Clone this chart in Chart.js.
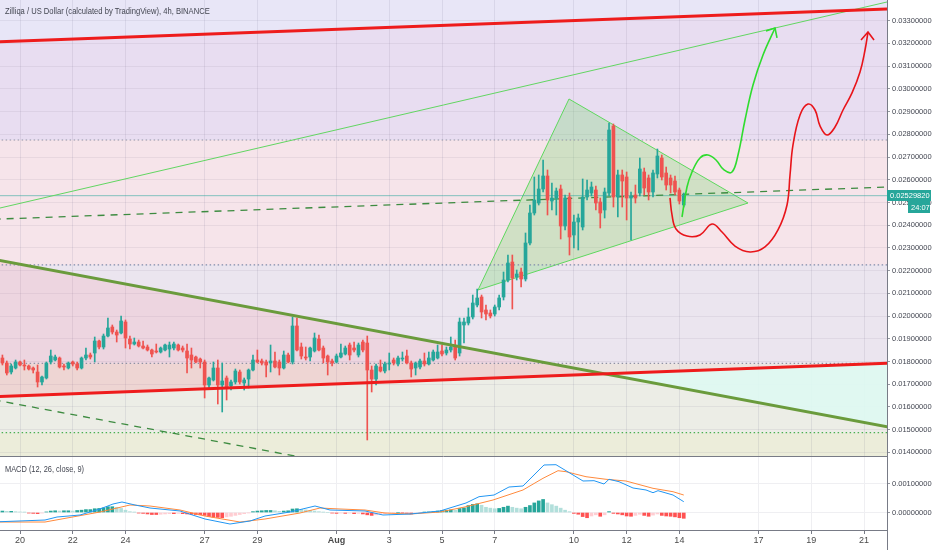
<!DOCTYPE html>
<html><head><meta charset="utf-8">
<script src="https://cdn.jsdelivr.net/npm/chart.js@4.4.1/dist/chart.umd.min.js"></script>
<style>
html,body{margin:0;padding:0;background:#fff;width:932px;height:550px;overflow:hidden}
#wrap{position:relative;width:932px;height:550px}
canvas{position:absolute;left:0}
.lbl{position:absolute;font-family:'Liberation Sans',Arial,sans-serif;font-size:9.5px;color:#434651;white-space:nowrap;transform-origin:0 0}
</style></head><body>
<div id="wrap">
<canvas id="main" width="932" height="456" style="top:0"></canvas>
<canvas id="macd" width="932" height="94" style="top:456px"></canvas>
<div class="lbl" style="left:5px;top:5px;transform:scaleX(0.8)">Zilliqa / US Dollar (calculated by TradingView), 4h, BINANCE</div>
<div class="lbl" style="left:5px;top:463px;transform:scaleX(0.78)">MACD (12, 26, close, 9)</div>
</div>
<script>
// ---------- DATA ----------
const barStartDay = 19 + 8/24;   // Jul 19 08:00, 4h bars
const barStepDays = 4/24;
const opens = [0.018154,0.017934,0.017538,0.017714,0.017978,0.017846,0.017802,0.017714,0.017538,0.017098,
0.017274,0.017978,0.018066,0.018154,0.017802,0.017714,0.017978,0.017890,0.017714,0.018154,
0.018286,0.018374,0.018902,0.018638,0.019122,0.019518,0.019298,0.019254,0.019739,0.018990,
0.018770,0.018858,0.018682,0.018638,0.018506,0.018462,0.018418,0.018506,0.018550,0.018594,
0.018726,0.018594,0.018462,0.018286,0.018198,0.018110,0.017978,0.016966,0.017186,0.017714,
0.016966,0.017274,0.016922,0.017098,0.017538,0.017054,0.017230,0.017626,0.018066,0.018022,
0.017978,0.017934,0.018022,0.017978,0.017714,0.018286,0.017978,0.019563,0.018638,0.018198,
0.018198,0.018462,0.018990,0.018594,0.018242,0.018022,0.017978,0.018198,0.018330,0.018726,
0.018594,0.018286,0.018858,0.018814,0.017626,0.017230,0.017758,0.017582,0.017890,0.018066,
0.017890,0.018110,0.018242,0.017934,0.017714,0.017758,0.018022,0.017890,0.018066,0.018154,
0.018462,0.018374,0.018506,0.018638,0.018374,0.019607,0.019695,0.019959,0.020487,0.020839,
0.020267,0.020135,0.020091,0.020399,0.020839,0.021587,0.022379,0.021719,0.021939,0.021631,
0.023216,0.024536,0.024976,0.025592,0.026165,0.025064,0.025196,0.025592,0.023964,0.025240,
0.023568,0.024140,0.023920,0.025240,0.025416,0.025548,0.025020,0.024668,0.025416,0.028365,
0.025240,0.026209,0.026121,0.025196,0.025328,0.025416,0.026341,0.026077,0.025460,0.026253,
0.026957,0.026297,0.026077,0.025944,0.025548,0.024888];
const highs = [0.018286,0.018022,0.017890,0.018066,0.018022,0.018066,0.017846,0.017758,0.017846,0.017362,
0.017978,0.018506,0.018286,0.018198,0.017890,0.017978,0.018022,0.017978,0.018198,0.018594,
0.018374,0.019078,0.018946,0.019210,0.019915,0.019607,0.019386,0.020003,0.019827,0.019122,
0.019034,0.018946,0.018902,0.018726,0.018550,0.018770,0.018638,0.018770,0.018858,0.018858,
0.018770,0.018682,0.018770,0.018594,0.018242,0.018154,0.018066,0.017318,0.017978,0.018066,
0.017934,0.017362,0.017186,0.017670,0.017626,0.017274,0.017670,0.018286,0.018506,0.018110,
0.018066,0.018726,0.018418,0.018066,0.018462,0.018374,0.019959,0.019915,0.018814,0.018638,
0.018638,0.019254,0.019166,0.018682,0.018286,0.018110,0.018330,0.018770,0.018682,0.018814,
0.018858,0.018814,0.018946,0.019122,0.017802,0.017890,0.018066,0.017978,0.018374,0.018154,
0.018242,0.018418,0.018506,0.018022,0.017978,0.018110,0.018374,0.018418,0.018506,0.018726,
0.018726,0.018638,0.019078,0.018946,0.019915,0.019915,0.020355,0.020927,0.021191,0.020927,
0.020487,0.020267,0.020487,0.020927,0.021939,0.022687,0.022687,0.022027,0.022115,0.023656,
0.024888,0.026121,0.026209,0.026869,0.026429,0.025856,0.025636,0.025768,0.025328,0.025416,
0.024448,0.024492,0.026033,0.025989,0.025900,0.025724,0.025196,0.025636,0.028497,0.028453,
0.026429,0.026429,0.026341,0.025460,0.025768,0.026957,0.026515,0.026209,0.026429,0.027353,
0.027089,0.026559,0.026209,0.026165,0.025636,0.025416];
const lows = [0.017846,0.017406,0.017450,0.017670,0.017802,0.017626,0.017626,0.017494,0.016878,0.016966,
0.017230,0.017890,0.018022,0.017714,0.017626,0.017670,0.017802,0.017626,0.017670,0.018066,
0.018110,0.017978,0.018550,0.018550,0.019078,0.019210,0.018858,0.019210,0.018594,0.018550,
0.018726,0.018638,0.018550,0.018462,0.018198,0.018374,0.018374,0.018462,0.018198,0.018506,
0.018462,0.018418,0.017494,0.017714,0.017934,0.017714,0.016394,0.016834,0.017142,0.016130,
0.015778,0.016306,0.016746,0.017010,0.017010,0.016746,0.016834,0.017582,0.017934,0.017846,
0.017318,0.017538,0.017714,0.017406,0.017670,0.017934,0.017890,0.018462,0.018110,0.018066,
0.018022,0.018418,0.018462,0.017934,0.017406,0.017802,0.017934,0.018154,0.018286,0.018066,
0.018418,0.018198,0.018418,0.014546,0.016658,0.016966,0.017538,0.017494,0.017626,0.017846,
0.017802,0.018022,0.017890,0.017318,0.017406,0.017670,0.017802,0.017846,0.018022,0.018110,
0.018242,0.018286,0.018418,0.018066,0.018242,0.018814,0.019607,0.019871,0.020399,0.019915,
0.019827,0.019915,0.020003,0.020267,0.020707,0.021499,0.020311,0.021587,0.021279,0.021543,
0.023128,0.024448,0.024888,0.025460,0.024448,0.024668,0.024448,0.023392,0.023788,0.022687,
0.022996,0.022908,0.023788,0.025108,0.025284,0.024668,0.023876,0.024316,0.025284,0.024800,
0.024360,0.024800,0.024228,0.023348,0.024976,0.025284,0.025328,0.025108,0.025240,0.026077,
0.025989,0.025548,0.025416,0.025328,0.024932,0.024800];
const closes = [0.017934,0.017494,0.017802,0.017978,0.017846,0.017802,0.017670,0.017626,0.017098,0.017318,
0.017934,0.018242,0.018198,0.017758,0.017758,0.017934,0.017890,0.017714,0.018154,0.018286,
0.018198,0.018902,0.018638,0.019122,0.019474,0.019298,0.019166,0.019783,0.019034,0.018770,
0.018858,0.018682,0.018594,0.018506,0.018330,0.018418,0.018594,0.018726,0.018726,0.018770,
0.018506,0.018506,0.018154,0.018066,0.017978,0.017978,0.016966,0.017274,0.017714,0.016966,
0.017142,0.016834,0.017098,0.017582,0.017098,0.017186,0.017626,0.018066,0.017978,0.017934,
0.017846,0.018022,0.017758,0.017714,0.018286,0.017978,0.019563,0.018506,0.018242,0.018154,
0.018594,0.019034,0.018506,0.018154,0.017978,0.017934,0.018242,0.018374,0.018594,0.018286,
0.018506,0.018726,0.018506,0.017626,0.017230,0.017802,0.017582,0.017890,0.017934,0.017934,
0.018154,0.018154,0.017934,0.017670,0.017934,0.018022,0.017890,0.018154,0.018418,0.018418,
0.018330,0.018506,0.018638,0.018154,0.019739,0.019739,0.019959,0.020575,0.020795,0.020179,
0.020091,0.020003,0.020399,0.020795,0.021587,0.022335,0.021675,0.021851,0.021631,0.023216,
0.024536,0.025108,0.025592,0.026165,0.025108,0.025196,0.025504,0.023964,0.025196,0.023480,
0.024140,0.024316,0.025240,0.025548,0.025680,0.024976,0.024536,0.025460,0.028189,0.025240,
0.026209,0.025944,0.025196,0.025284,0.025196,0.026473,0.025636,0.025460,0.026297,0.027045,
0.026121,0.025768,0.025768,0.025460,0.025064,0.0252982];

// MACD (12, 26, close, 9)
const macdDays   = [19.242,20.948,21.403,22.275,23.033,23.526,23.867,24.360,24.929,26.066,27.014,27.962,28.720,29.289,30.237,31.185,31.754,33.081,33.763,34.787,35.924,36.910,37.403,37.972,38.540,39.071,39.867,40.322,40.701,41.346,41.763,42.142,42.332,42.711,43.242,43.735,44.000,44.190,44.759,45.167];
const macdValues = [-0.000317,-0.000259,-0.000155,-0.000086,0.000121,0.000293,0.000362,0.000259,0.000155,0.000052,-0.000224,-0.000397,-0.000293,-0.000121,0.000017,0.000224,0.000086,0.000052,-0.000086,-0.000052,0.000052,0.000328,0.000545,0.000603,0.000879,0.000914,0.001638,0.001648,0.001441,0.001086,0.001097,0.000983,0.001145,0.001062,0.000845,0.000776,0.000683,0.000752,0.000603,0.000372];
const signalDays   = [19.242,20.948,23.033,24.171,24.929,26.066,27.014,28.341,29.289,30.616,31.374,32.133,33.081,33.839,34.787,35.924,36.910,37.934,39.071,39.829,40.398,40.701,41.460,42.218,42.976,44.000,44.759,45.167];
const signalValues = [-0.000328,-0.000328,0.000017,0.000259,0.000224,0.000086,-0.000121,-0.000328,-0.000224,-0.000017,0.000155,0.000121,0.000086,-0.000017,-0.000052,0.000017,0.000200,0.000431,0.000776,0.001179,0.001441,0.001407,0.001234,0.001145,0.001086,0.000834,0.000717,0.000603];
const macdHist = [0.00005,0.00004,0.00004,0.00003,0.00002,0.00001,-0.00002,-0.00003,-0.00004,-0.00002,
0.00002,0.00005,0.00006,0.00005,0.00006,0.00006,0.00005,0.00007,0.00008,0.00010,
0.00010,0.00013,0.00014,0.00016,0.00020,0.00020,0.00018,0.00014,0.00008,0.00003,
0.00001,-0.00002,-0.00003,-0.00005,-0.00007,-0.00007,-0.00006,-0.00005,-0.00004,-0.00004,
-0.00003,-0.00004,-0.00005,-0.00006,-0.00007,-0.00008,-0.00010,-0.00014,-0.00016,-0.00017,
-0.00018,-0.00015,-0.00013,-0.00010,-0.00007,-0.00004,-0.00001,0.00003,0.00005,0.00006,
0.00007,0.00007,0.00006,0.00004,0.00005,0.00006,0.00012,0.00013,0.00011,0.00009,
0.00007,0.00005,0.00003,0.00001,0.00000,-0.00002,-0.00003,-0.00002,-0.00003,-0.00002,
-0.00004,-0.00003,-0.00005,-0.00008,-0.00010,-0.00008,-0.00006,-0.00004,-0.00002,-0.00001,
0.00000,-0.00001,-0.00003,-0.00005,-0.00003,-0.00001,0.00001,0.00002,0.00003,0.00005,
0.00007,0.00008,0.00009,0.00008,0.00014,0.00016,0.00024,0.00028,0.00030,0.00025,
0.00018,0.00015,0.00013,0.00014,0.00018,0.00022,0.00018,0.00015,0.00013,0.00018,
0.00024,0.00033,0.00040,0.00045,0.00033,0.00027,0.00022,0.00015,0.00008,0.00003,
-0.00003,-0.00006,-0.00014,-0.00018,-0.00012,-0.00008,-0.00013,-0.00008,0.00003,-0.00003,
-0.00005,-0.00008,-0.00012,-0.00013,-0.00010,-0.00006,-0.00010,-0.00013,-0.00009,-0.00005,
-0.00010,-0.00012,-0.00013,-0.00015,-0.00018,-0.00020];

// axis ticks
const xTickDays   = [20,22,24,27,29,32,34,36,38,41,43,45,48,50,52];
const xTickLabels = ['20','22','24','27','29','Aug','3','5','7','10','12','14','17','19','21'];
const priceTicks  = [0.014,0.015,0.016,0.017,0.018,0.019,0.020,0.021,0.022,0.023,0.024,0.025,0.026,0.027,0.028,0.029,0.030,0.031,0.032,0.033];
const macdTicks   = [0, 0.001];

// drawings (day, price)
const redTopLine       = [{x:19,y:0.032066},{x:53,y:0.033520}];
const redBottomLine    = [{x:19,y:0.016448},{x:53,y:0.017927}];
const greenFallingLine = [{x:19,y:0.022494},{x:53,y:0.015102}];
const greenRisingLine  = [{x:19,y:0.024691},{x:53,y:0.033858}];
const dashedUpperLine  = [{x:19,y:0.024262},{x:53,y:0.025685}];
const dashedLowerLine  = [{x:19,y:0.016313},{x:32,y:0.013500}];
const crossPoint       = {x:42.172,y:0.017454};
const pinkWedge = [{x:19,y:0.022494},crossPoint,{x:19,y:0.016448},{x:19,y:0.022494}];
const cyanWedge = [crossPoint,{x:53,y:0.017927},{x:53,y:0.015102},crossPoint];
const channelShape = [{x:19,y:0.032066},{x:53,y:0.033520},{x:53,y:0.017927},{x:19,y:0.016448},{x:19,y:0.032066}];
const triangleShape = [{x:37.365,y:0.021147},{x:40.815,y:0.029554},{x:47.602,y:0.024976},{x:37.365,y:0.021147}];
const levelPrices = [0.014866, 0.017920, 0.022250, 0.027750];
const levelColors = ['#4caf50','#8f92a3','#7f8bab','#8f92a3'];
const zoneEdges  = [0.0100, 0.014866, 0.017920, 0.022250, 0.027750, 0.0400];
const zoneColors = ['#ecedda','#ecede6','#ebeef5','#f6edf0','#e8e6f7'];
const greenPath = [{x:45.100,y:0.02436},{x:45.289,y:0.02568},{x:45.479,y:0.02634},{x:45.782,y:0.02696},{x:46.085,y:0.02709},{x:46.389,y:0.02687},{x:46.692,y:0.02643},{x:46.995,y:0.02634},{x:47.223,y:0.02709},{x:47.488,y:0.02863},{x:47.792,y:0.03017},{x:48.171,y:0.03149},{x:48.626,y:0.03268}];
const greenArrowHead = [{x:48.284,y:0.03255},{x:48.626,y:0.03268},{x:48.702,y:0.03224}];
const redPath = [{x:44.645,y:0.02520},{x:44.721,y:0.02445},{x:44.873,y:0.02383},{x:45.289,y:0.02352},{x:45.782,y:0.02357},{x:46.237,y:0.02405},{x:46.616,y:0.02370},{x:47.109,y:0.02308},{x:47.678,y:0.02282},{x:48.246,y:0.02304},{x:48.739,y:0.02379},{x:49.081,y:0.02489},{x:49.195,y:0.02621},{x:49.308,y:0.02753},{x:49.574,y:0.02885},{x:49.877,y:0.02933},{x:50.143,y:0.02907},{x:50.332,y:0.02837},{x:50.598,y:0.02797},{x:50.901,y:0.02832},{x:51.205,y:0.02907},{x:51.546,y:0.02982},{x:51.849,y:0.03074},{x:52.039,y:0.03171},{x:52.152,y:0.03250}];
const redArrowHead = [{x:51.887,y:0.03215},{x:52.152,y:0.03250},{x:52.380,y:0.03215}];

// ---------- STYLE ----------
const DAY_MIN = 19.2417, DAY_MAX = 52.872;
const PRICE_MIN = 0.013841, PRICE_MAX = 0.033911;
const MACD_MIN = -0.000603, MACD_MAX = 0.001948;
const UP = '#26a69a', DOWN = '#ef5350';
const FONT = "'Liberation Sans',Arial,sans-serif";
const AXIS = '#787b86';

const barDays = opens.map((_, i) => barStartDay + i * barStepDays);
const lastClose = closes[closes.length - 1];
const candleColor = c => (c.dataIndex === undefined) ? UP : (closes[c.dataIndex] >= opens[c.dataIndex] ? UP : DOWN);

function lineDs(data, color, width, order, extra) {
  return Object.assign({type:'line', data, borderColor:color, borderWidth:width, pointRadius:0, fill:false, tension:0, order}, extra || {});
}
function shapeDs(data, color, order, border) {
  return {type:'line', data, borderColor: border || 'rgba(0,0,0,0)', borderWidth: border ? 1 : 0, backgroundColor: color, pointRadius:0, fill:'shape', tension:0, order};
}
function fixedX(showTicks, height) {
  return {
    type:'linear', min:DAY_MIN, max:DAY_MAX, position:'bottom', offset:false,
    afterBuildTicks: s => { s.ticks = xTickDays.map(v => ({value:v})); },
    afterFit: s => { s.height = height; s.paddingLeft = 0; s.paddingRight = 0; },
    grid: {offset:false, color: showTicks ? '#efeff2' : 'rgba(110,110,140,0.13)', drawTicks: showTicks, tickLength: 4, tickColor: AXIS},
    border: {display: showTicks, color: AXIS},
    ticks: {display: showTicks, maxRotation:0, autoSkip:false, padding:1, color:'#4a4a4a',
      font: c => ({family: FONT, size: 9, weight: (c.tick && c.tick.label === 'Aug') ? 'bold' : 'normal'}),
      callback: v => xTickLabels[xTickDays.indexOf(v)] }
  };
}
function fixedY(min, max, tickVals, grid) {
  return {
    type:'linear', position:'right', min, max, offset:false,
    afterBuildTicks: s => { s.ticks = tickVals.map(v => ({value:v})); },
    afterFit: s => { s.width = 45; s.paddingTop = 0; s.paddingBottom = 0; },
    grid: {color: grid, tickLength: 3, tickColor: '#9598a1'},
    border: {color: AXIS},
    ticks: {padding: 2, color:'#434651', font:{family: FONT, size: 7.5}, callback: v => Number(v).toFixed(8)}
  };
}

const bandsPlugin = {
  id:'bands',
  beforeDraw(chart) {
    const {ctx, chartArea:a, scales:{y}} = chart;
    ctx.save();
    ctx.beginPath(); ctx.rect(a.left, a.top, a.right - a.left, a.bottom - a.top); ctx.clip();
    for (let i = 0; i < zoneColors.length; i++) {
      const top = y.getPixelForValue(zoneEdges[i+1]), bot = y.getPixelForValue(zoneEdges[i]);
      ctx.fillStyle = zoneColors[i];
      ctx.fillRect(a.left, top, a.right - a.left, bot - top);
    }
    ctx.restore();
  },
  afterDraw(chart) {
    const {ctx, chartArea:a, scales:{y}} = chart;
    const py = Math.round(y.getPixelForValue(lastClose));
    ctx.save();
    ctx.fillStyle = UP;
    ctx.fillRect(a.right, py - 6, 44, 11);
    ctx.fillRect(a.right + 21, py + 5, 22, 12);
    ctx.fillStyle = '#fff';
    ctx.font = "7.5px " + FONT;
    ctx.textBaseline = 'middle';
    ctx.fillText(lastClose.toFixed(8), a.right + 3, py);
    ctx.fillText('24:07', a.right + 24, py + 11.5);
    ctx.restore();
  }
};

const mainDatasets = [
  lineDs(greenPath, '#2fdc2f', 1.6, 1, {tension:0.4}),
  lineDs(greenArrowHead, '#2fdc2f', 1.6, 1),
  lineDs(redPath, '#e8141a', 1.6, 1, {tension:0.4}),
  lineDs(redArrowHead, '#e8141a', 1.6, 1),
  lineDs(redTopLine, '#ee1c1c', 3, 2),
  lineDs(redBottomLine, '#ee1c1c', 3, 2),
  lineDs(greenFallingLine, '#6a9b3c', 3, 2),
  {type:'bar', data: barDays.map((d,i)=>({x:d, y:[opens[i], closes[i]]})), backgroundColor: candleColor, barThickness:3, grouped:false, minBarLength:1, order:3},
  {type:'bar', data: barDays.map((d,i)=>({x:d, y:[lows[i], highs[i]]})), backgroundColor: candleColor, barThickness:1, grouped:false, minBarLength:1, order:4},
  lineDs(greenRisingLine, '#62d662', 1, 5),
  lineDs(dashedUpperLine, '#3d8b40', 1.3, 5, {borderDash:[7,6]}),
  lineDs(dashedLowerLine, '#3d8b40', 1.3, 5, {borderDash:[7,6]}),
  lineDs([{x:19,y:lastClose},{x:53,y:lastClose}], 'rgba(38,166,154,0.55)', 1, 6),
  ...levelPrices.map((p, i) => lineDs([{x:19,y:p},{x:53,y:p}], levelColors[i], 1.2, 6, {borderDash:[1.5,2.5]})),
  shapeDs(triangleShape, 'rgba(110,215,100,0.28)', 7, '#5fd85f'),
  shapeDs(pinkWedge, 'rgba(255,95,105,0.11)', 8),
  shapeDs(cyanWedge, 'rgba(222,249,242,0.92)', 8),
  shapeDs(channelShape, 'rgba(255,0,80,0.035)', 9)
];

const common = {responsive:false, animation:false, events:[], layout:{padding:0},
  plugins:{legend:{display:false}, tooltip:{enabled:false}, filler:{propagate:false}}};

new Chart(document.getElementById('main'), {
  type:'bar',
  data:{datasets: mainDatasets},
  options: Object.assign({}, common, {
    scales:{ x: fixedX(false, 0), y: fixedY(PRICE_MIN, PRICE_MAX, priceTicks, 'rgba(110,110,140,0.10)') }
  }),
  plugins:[bandsPlugin]
});

const histColor = c => {
  const i = c.dataIndex; if (i === undefined) return UP;
  const v = macdHist[i], prev = i > 0 ? macdHist[i-1] : 0;
  return v >= 0 ? (v >= prev ? '#26a69a' : '#b2dfdb') : (v <= prev ? '#ff5252' : '#ffcdd2');
};
const paneBorder = {
  id:'paneBorder',
  afterDraw(chart) {
    const {ctx, chartArea:a} = chart;
    ctx.save(); ctx.strokeStyle = AXIS; ctx.lineWidth = 1;
    ctx.beginPath(); ctx.moveTo(0, 0.5); ctx.lineTo(a.right, 0.5);
    ctx.moveTo(a.right + 0.5, 0); ctx.lineTo(a.right + 0.5, chart.height); ctx.stroke();
    ctx.restore();
  }
};
new Chart(document.getElementById('macd'), {
  type:'bar',
  data:{datasets:[
    lineDs(macdDays.map((d,i)=>({x:d,y:macdValues[i]})), '#2196f3', 1, 1),
    lineDs(signalDays.map((d,i)=>({x:d,y:signalValues[i]})), '#ff8a3d', 1, 1),
    {type:'bar', data: barDays.map((d,i)=>({x:d, y:macdHist[i]})), backgroundColor: histColor, barThickness:3, grouped:false, order:2}
  ]},
  options: Object.assign({}, common, {
    scales:{ x: fixedX(true, 20), y: fixedY(MACD_MIN, MACD_MAX, macdTicks, '#efeff2') }
  }),
  plugins:[paneBorder]
});
</script>
</body></html>
